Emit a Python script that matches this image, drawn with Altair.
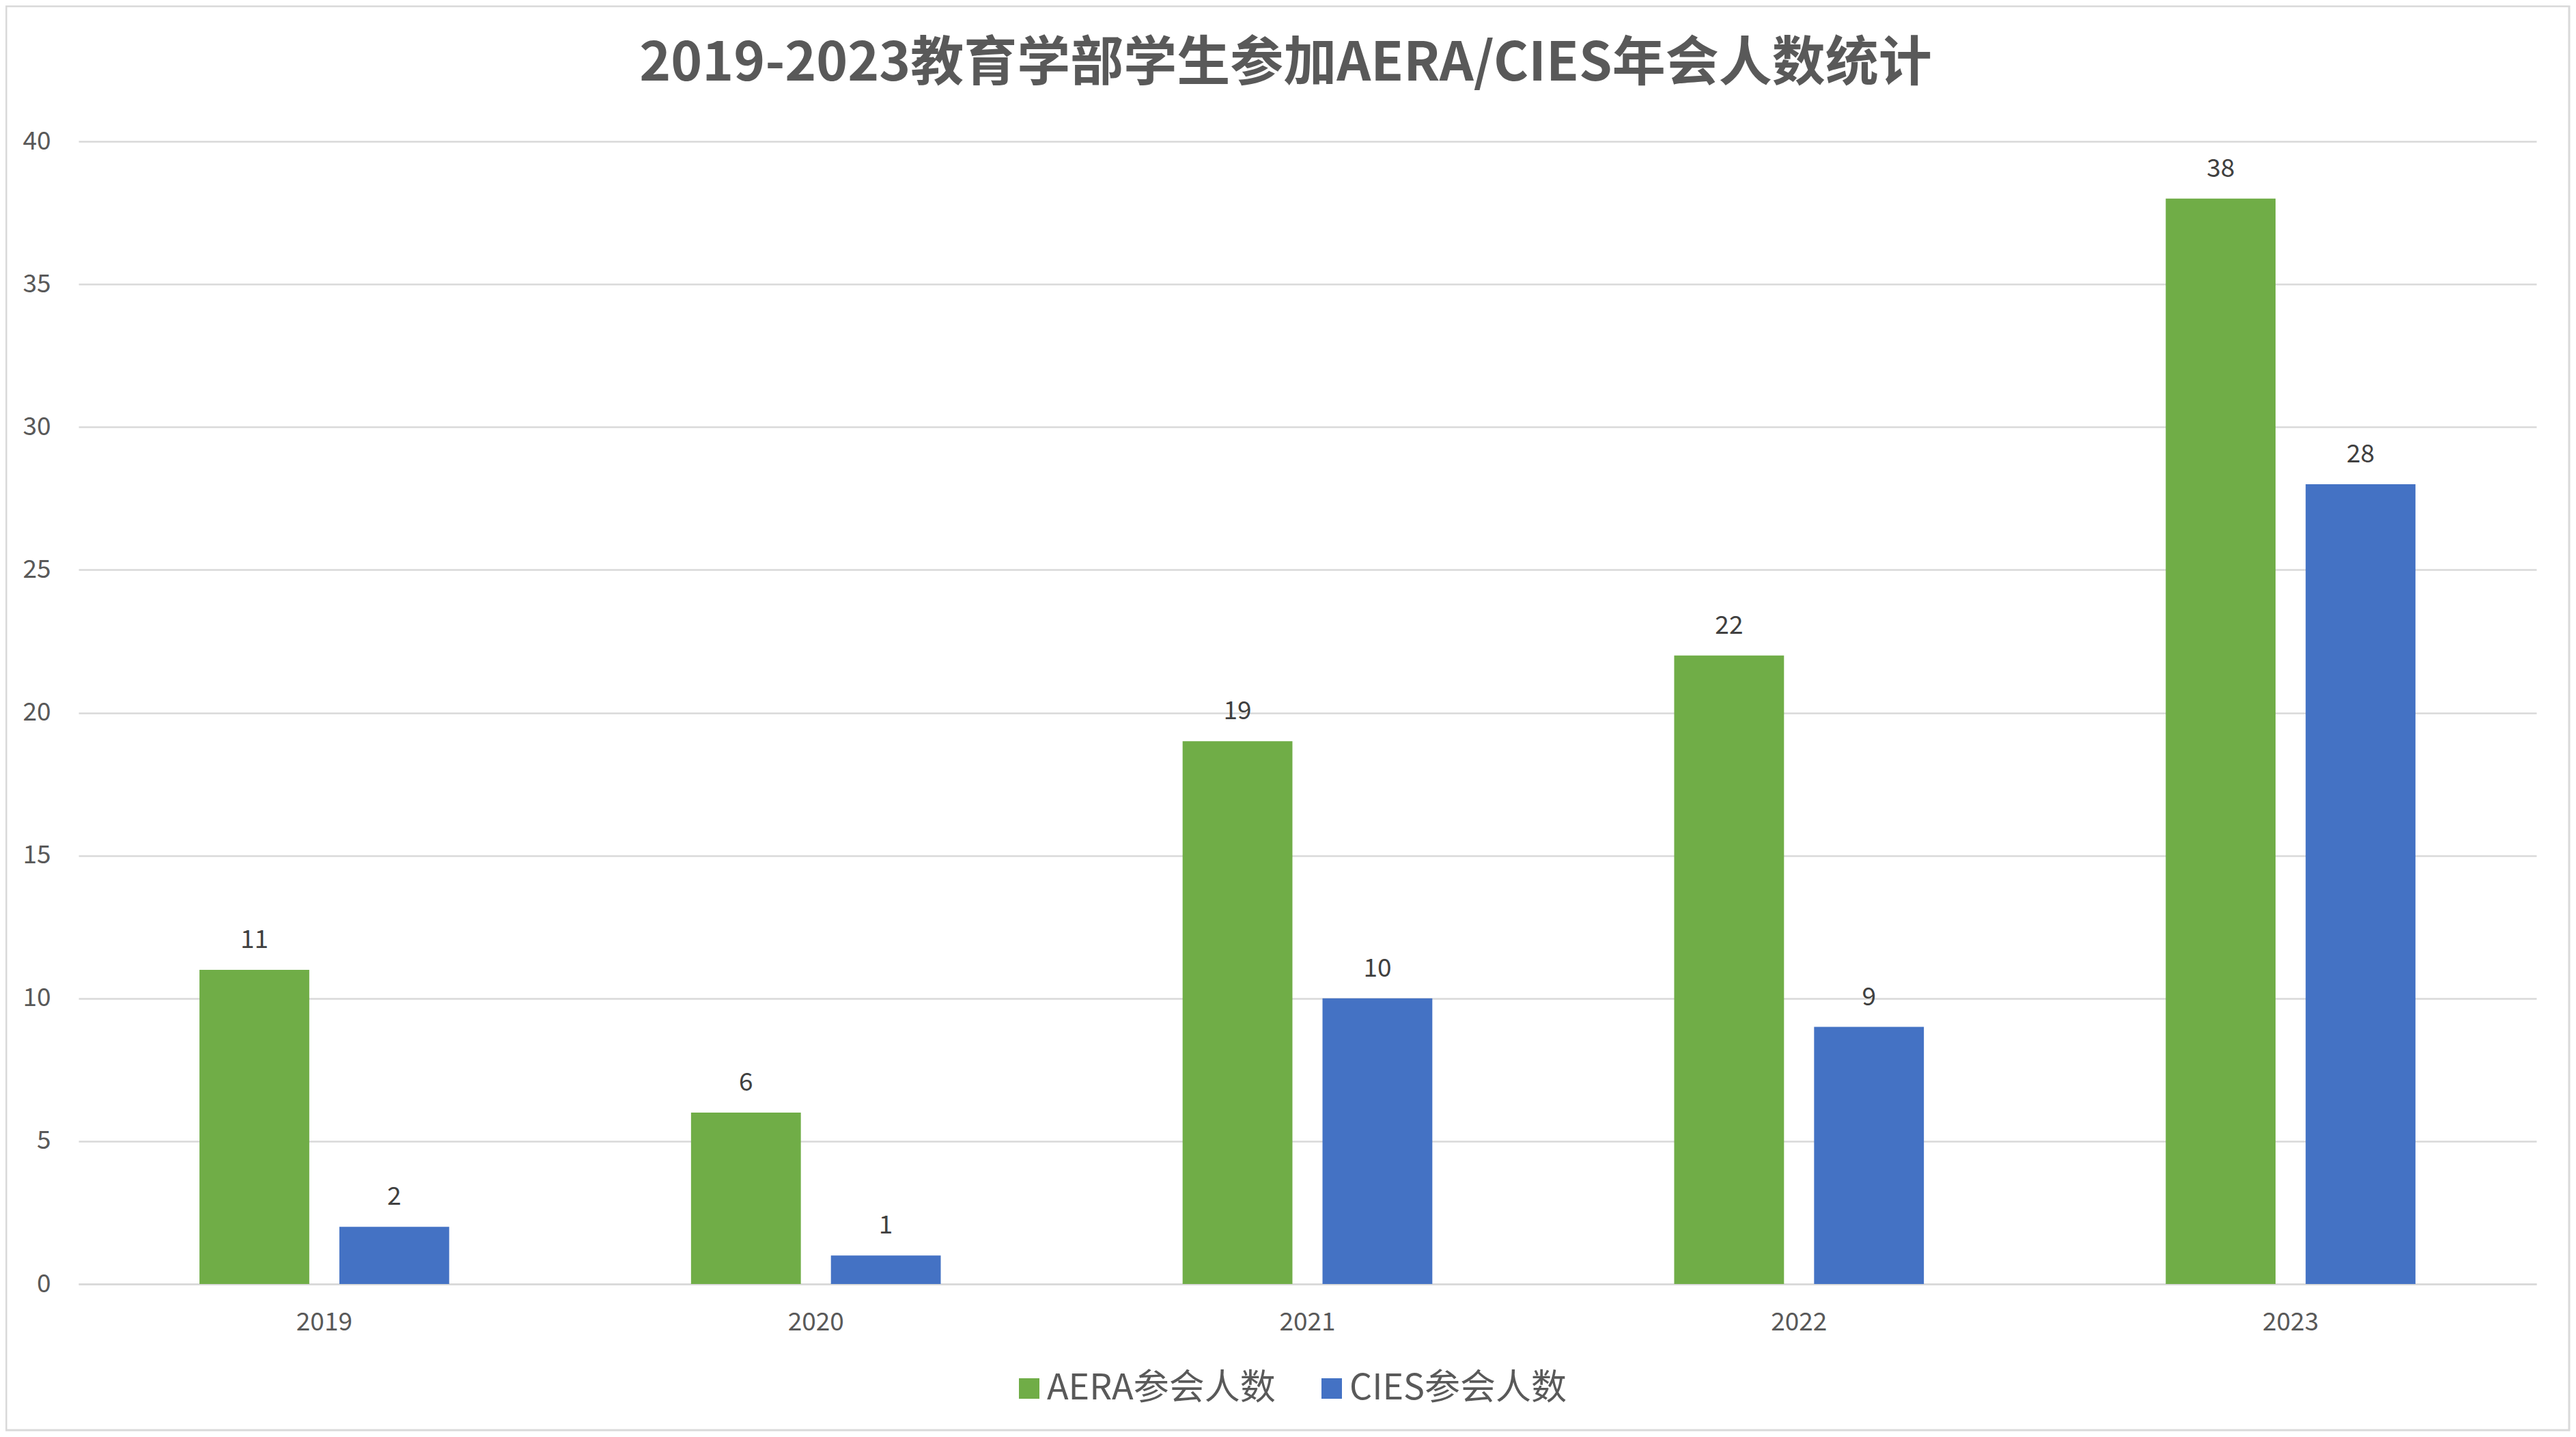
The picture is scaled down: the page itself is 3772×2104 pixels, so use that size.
import altair as alt
import pandas as pd

#===== データ =====
years = ["2019", "2020", "2021", "2022", "2023"]
aera = [11, 6, 19, 22, 38]
cies = [2, 1, 10, 9, 28]
series = ["AERA参会人数", "CIES参会人数"]
colors = ["#70AD47", "#4472C4"]
y_ticks = [0, 5, 10, 15, 20, 25, 30, 35, 40]

dat = pd.DataFrame({
  "年份": years * 2
  , "系列": [series[0]] * len(years) + [series[1]] * len(years)
  , "人数": aera + cies
})

FONT = "Noto Sans CJK SC"
W, H = 3599, 1673

base = alt.Chart(dat).encode(
  x=alt.X("年份:N", sort=years
          , scale=alt.Scale(paddingInner=0.492, paddingOuter=0.246)
          , axis=alt.Axis(title=None, labelAngle=0, ticks=False, grid=False
                          , domainColor="#D9D9D9", domainWidth=2.5
                          , labelFontSize=37, labelColor="#595959", labelPadding=38))
  , xOffset=alt.XOffset("系列:N", sort=series
                        , scale=alt.Scale(paddingInner=0.215, paddingOuter=0))
  , y=alt.Y("人数:Q", scale=alt.Scale(domain=[0, 40], nice=False)
            , axis=alt.Axis(title=None, values=y_ticks, ticks=False, domain=False
                            , gridColor="#D9D9D9", gridWidth=2.5
                            , labelFontSize=37, labelColor="#595959", labelPadding=41))
)

bars = base.mark_bar().encode(
  color=alt.Color("系列:N", sort=series
                  , scale=alt.Scale(domain=series, range=colors)
                  , legend=alt.Legend(title=None, orient="none", direction="horizontal"
                                      , legendX=1366, legendY=1800
                                      , symbolType="square", symbolSize=900
                                      , symbolStrokeWidth=0, labelFontSize=52
                                      , labelColor="#595959", labelOffset=0
                                      , labelLimit=0, columnPadding=56, padding=0))
)

labels = base.mark_text(baseline="alphabetic", dy=-32, fontSize=37, color="#404040").encode(
  text="人数:Q"
)

# 外枠（Excelのグラフ枠っぽく）
frame = alt.Chart(pd.DataFrame({"k": [0]})).mark_rect(
  fill="transparent", stroke="#D9D9D9", strokeWidth=3
).encode(
  x=alt.value(-106), x2=alt.value(W + 48)
  , y=alt.value(-198), y2=alt.value(H + 214)
)

chart = alt.layer(frame, bars, labels).properties(
  width=W, height=H
  , autosize=alt.AutoSizeParams(type="none")
  , padding={"left": 107, "top": 199, "right": 50, "bottom": 216}
  , title=alt.Title("2019-2023教育学部学生参加AERA/CIES年会人数统计"
                    , fontSize=78, fontWeight="bold", color="#595959"
                    , anchor="middle", frame="group", dx=-32, offset=-126)
).configure(
  background="white", font=FONT
).configure_view(stroke=None)

chart.save("out.html", embed_options={"renderer": "svg", "actions": False})
